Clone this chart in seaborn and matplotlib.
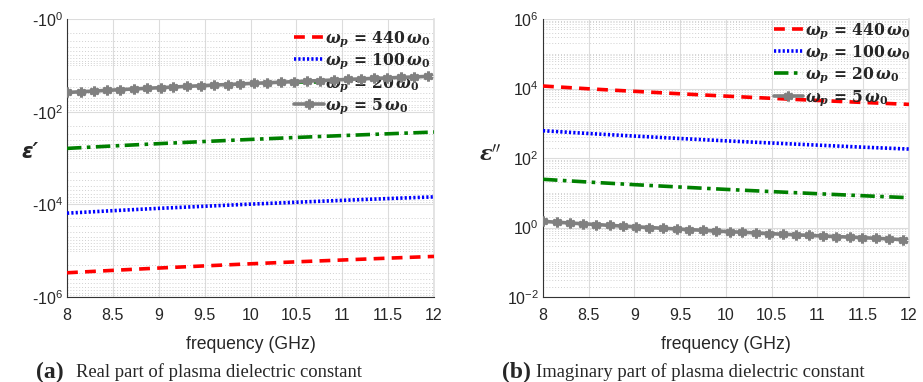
import numpy as np
import pandas as pd
import matplotlib
matplotlib.use("Agg")
import matplotlib.pyplot as plt
import matplotlib.ticker as mticker
import seaborn as sns

# ---------------- data ----------------
freq = [8.0, 8.5, 9.0, 9.5, 10.0, 10.5, 11.0, 11.5, 12.0]
freq_m = [8.00, 8.15, 8.29, 8.44, 8.58, 8.73, 8.87, 9.02, 9.16, 9.31, 9.46, 9.60, 9.75, 9.89,
          10.04, 10.18, 10.33, 10.47, 10.62, 10.76, 10.91, 11.06, 11.20, 11.35, 11.49, 11.64,
          11.78, 11.93]

labels = [r"$\mathbfit{\omega}_{\mathbfit{p}}\,\mathbf{=}\,\mathbf{440}\,\mathbfit{\omega}_{\mathbf{0}}$",
          r"$\mathbfit{\omega}_{\mathbfit{p}}\,\mathbf{=}\,\mathbf{100}\,\mathbfit{\omega}_{\mathbf{0}}$",
          r"$\mathbfit{\omega}_{\mathbfit{p}}\,\mathbf{=}\,\mathbf{20}\,\mathbfit{\omega}_{\mathbf{0}}$",
          r"$\mathbfit{\omega}_{\mathbfit{p}}\,\mathbf{=}\,\mathbf{5}\,\mathbfit{\omega}_{\mathbf{0}}$"]

# real part (negative values)
re_440 = [-300000, -266000, -237000, -213000, -192000, -174000, -159000, -145000, -133000]
re_100 = [-15500, -13700, -12200, -11000, -9900, -9000, -8200, -7500, -6900]
re_20 = [-620, -549, -490, -440, -397, -360, -328, -300, -275]
re_5 = [-38.5, -37.1, -35.9, -34.6, -33.5, -32.3, -31.3, -30.3, -29.4, -28.4, -27.5, -26.7,
        -25.9, -25.2, -24.4, -23.8, -23.1, -22.5, -21.8, -21.3, -20.7, -20.1, -19.6, -19.1,
        -18.7, -18.2, -17.8, -17.3]

# imaginary part
im_440 = [11800, 9800, 8300, 7050, 6040, 5220, 4540, 3970, 3500]
im_100 = [610, 507, 428, 364, 312, 270, 235, 205, 181]
im_20 = [24.4, 20.3, 17.1, 14.6, 12.5, 10.8, 9.4, 8.2, 7.2]
im_5 = [1.50, 1.42, 1.35, 1.28, 1.22, 1.15, 1.10, 1.05, 1.00, 0.95, 0.91, 0.87, 0.83, 0.79,
        0.76, 0.73, 0.70, 0.67, 0.64, 0.62, 0.59, 0.57, 0.55, 0.53, 0.51, 0.49, 0.47, 0.45]

xticks = [8, 8.5, 9, 9.5, 10, 10.5, 11, 11.5, 12]
xtick_labels = ["8", "8.5", "9", "9.5", "10", "10.5", "11", "11.5", "12"]

# ---------------- style ----------------
sns.set_theme(style="white")
plt.rcParams["font.family"] = ["Liberation Sans", "DejaVu Sans"]
plt.rcParams["mathtext.fontset"] = "dejavuserif"

fig = plt.figure(figsize=(9.23, 3.82), dpi=100)
ax1 = fig.add_axes([0.0726, 0.2225, 0.3976, 0.7277])
ax2 = fig.add_axes([0.5883, 0.2225, 0.3965, 0.7277])

red, blue, green, gray = "#ff0000", "#0000ff", "#008000", "#808080"
lw = 2.6
aster = (6, 2, 0)


def draw(ax, y440, y100, y20, y5, transform):
    df = pd.DataFrame({"f": freq, "a": transform(y440), "b": transform(y100), "c": transform(y20)})
    dm = pd.DataFrame({"f": freq_m, "d": transform(y5)})
    sns.lineplot(data=df, x="f", y="a", ax=ax, color=red, lw=lw, linestyle=(0, (3, 2)),
                 label=labels[0], zorder=3)
    sns.lineplot(data=df, x="f", y="b", ax=ax, color=blue, lw=lw, linestyle=(0, (0.6, 0.6)),
                 label=labels[1], zorder=3)
    sns.lineplot(data=df, x="f", y="c", ax=ax, color=green, lw=lw, linestyle=(0, (4, 1.5, 1, 1.5)),
                 label=labels[2], zorder=3)
    sns.lineplot(data=dm, x="f", y="d", ax=ax, color=gray, lw=lw, marker=aster, markersize=7,
                 markeredgewidth=2.2, markeredgecolor=gray, label=labels[3], zorder=6)


draw(ax1, re_440, re_100, re_20, re_5, lambda v: np.abs(np.asarray(v, dtype=float)))
draw(ax2, im_440, im_100, im_20, im_5, lambda v: np.asarray(v, dtype=float))

for ax in (ax1, ax2):
    ax.set_yscale("log")
    ax.set_xlim(8, 12)
    ax.set_xticks(xticks)
    ax.set_xticklabels(xtick_labels)
    ax.yaxis.set_minor_locator(mticker.LogLocator(base=10, subs=np.arange(1, 10), numticks=100))
    ax.yaxis.set_minor_formatter(mticker.NullFormatter())
    ax.grid(True, which="major", color="#dcdcdc", lw=0.8, ls="-")
    ax.grid(True, which="minor", axis="y", color="#d0d0d0", lw=0.7, ls=(0, (1, 2)))
    ax.set_axisbelow(True)
    ax.spines["top"].set_visible(False)
    ax.spines["right"].set_color("#e0e0e0")
    for s in ("left", "bottom"):
        ax.spines[s].set_color("#333333")
        ax.spines[s].set_linewidth(0.8)
    ax.tick_params(axis="both", which="both", direction="in", colors="#333333",
                   labelcolor="#262626", labelsize=11.5)
    ax.tick_params(axis="x", which="major", length=4, pad=8)
    ax.tick_params(axis="y", which="major", length=4, pad=3)
    ax.tick_params(axis="y", which="minor", length=2)
    ax.set_xlabel("frequency (GHz)", fontsize=12.7, color="#262626", labelpad=9)
    ax.set_facecolor("white")

# left: magnitudes on inverted log axis, labelled as negative values
ax1.set_ylim(1e6, 1e0)
ax1.set_yticks([1e0, 1e2, 1e4, 1e6])
ax1.set_yticklabels([r"-$\mathregular{10^{0}}$", r"-$\mathregular{10^{2}}$",
                     r"-$\mathregular{10^{4}}$", r"-$\mathregular{10^{6}}$"])
ax2.set_ylim(1e-2, 1e6)
ax2.set_yticks([1e-2, 1e0, 1e2, 1e4, 1e6])
ax2.set_yticklabels([r"$\mathregular{10^{-2}}$", r"$\mathregular{10^{0}}$", r"$\mathregular{10^{2}}$",
                     r"$\mathregular{10^{4}}$", r"$\mathregular{10^{6}}$"])

ax1.set_ylabel("ε′", rotation=0, fontsize=15, va="center", fontweight="bold", style="italic",
               family=["DejaVu Sans"])
ax1.yaxis.set_label_coords(-0.10, 0.52)
ax2.set_ylabel(r"$\mathbfit{\varepsilon}^{\prime\prime}$", rotation=0, fontsize=15, va="center")
ax2.yaxis.set_label_coords(-0.145, 0.51)

for ax, anchor in ((ax1, (1.0, 0.975)), (ax2, (1.012, 1.005))):
    leg = ax.legend(loc="upper right", bbox_to_anchor=anchor, frameon=False, fontsize=11.2,
                    handlelength=1.9, handletextpad=0.1, labelspacing=0.16, borderaxespad=0.1,
                    borderpad=0.1)
    leg.set_zorder(5)

# captions
cy = 0.026
fig.text(0.039, cy, "(a)", fontsize=17, fontweight="bold", family="Liberation Serif",
         va="center", ha="left")
fig.text(0.082, cy, "Real part of plasma dielectric constant", fontsize=13.4,
         family="Liberation Serif", va="center", ha="left")
fig.text(0.544, cy, "(b)", fontsize=17, fontweight="bold", family="Liberation Serif",
         va="center", ha="left")
fig.text(0.581, cy, "Imaginary part of plasma dielectric constant", fontsize=13.4,
         family="Liberation Serif", va="center", ha="left")

fig.savefig("out.png", dpi=100, facecolor="white")
